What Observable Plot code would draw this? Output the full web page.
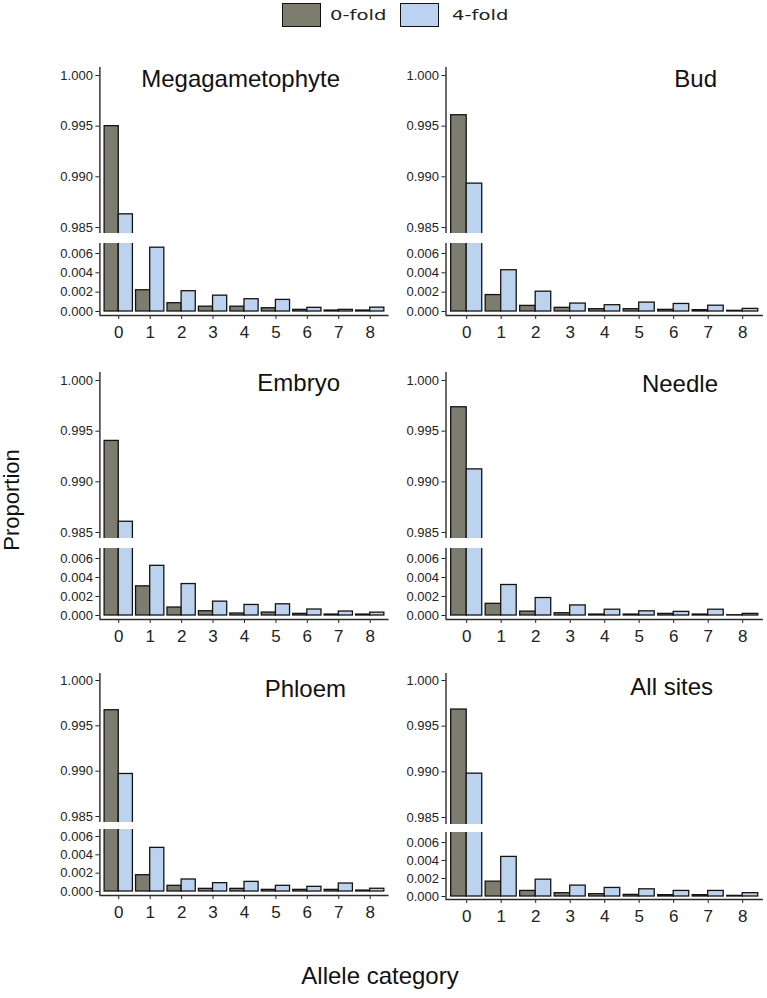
<!DOCTYPE html>
<html><head><meta charset="utf-8">
<script src="https://cdn.jsdelivr.net/npm/d3@7"></script>
<script src="https://cdn.jsdelivr.net/npm/@observablehq/plot@0.6"></script>
<style>
body{margin:0;background:#fff;}
#root{position:relative;width:767px;height:998px;overflow:hidden;font-family:"Liberation Sans",Arial,sans-serif;color:#111;}
.abs{position:absolute;}
.ptitle{position:absolute;font-size:24px;line-height:24px;white-space:nowrap;color:#111;}
.key{position:absolute;box-sizing:border-box;border:1.6px solid #111;}
.ktext{position:absolute;font-family:"DejaVu Sans",sans-serif;font-size:14px;line-height:14px;white-space:nowrap;transform-origin:left center;transform:scaleX(1.4);color:#222;}
g[aria-label^="x-axis"] text{font-family:"Liberation Sans Narrow","Liberation Sans",sans-serif;font-size:17px;}
g[aria-label^="y-axis"] text{font-size:13px;}
</style>
</head><body><div id="root"></div>
<script>
// ---- data ----
const categories = [0, 1, 2, 3, 4, 5, 6, 7, 8];
const folds = ["0-fold", "4-fold"];
const panelNames = ["Megagametophyte", "Bud", "Embryo", "Needle", "Phloem", "All sites"];
const upperTicks = [0.985, 0.990, 0.995, 1.000];
const lowerTicks = [0.000, 0.002, 0.004, 0.006];

const megagametophyte0 = [0.99500, 0.00220, 0.00086, 0.00050, 0.00050, 0.00034, 0.00017, 0.00010, 0.00010];
const megagametophyte4 = [0.98630, 0.00660, 0.00210, 0.00164, 0.00127, 0.00120, 0.00038, 0.00017, 0.00040];
const bud0 = [0.99608, 0.00170, 0.00058, 0.00038, 0.00024, 0.00024, 0.00017, 0.00014, 0.00007];
const bud4 = [0.98933, 0.00427, 0.00205, 0.00082, 0.00065, 0.00092, 0.00078, 0.00060, 0.00027];
const embryo0 = [0.99404, 0.00307, 0.00084, 0.00045, 0.00021, 0.00031, 0.00017, 0.00010, 0.00010];
const embryo4 = [0.98606, 0.00523, 0.00331, 0.00146, 0.00111, 0.00118, 0.00063, 0.00042, 0.00030];
const needle0 = [0.99736, 0.00123, 0.00041, 0.00024, 0.00010, 0.00010, 0.00017, 0.00010, 0.00003];
const needle4 = [0.99123, 0.00321, 0.00184, 0.00106, 0.00061, 0.00044, 0.00038, 0.00061, 0.00017];
const phloem0 = [0.99672, 0.00178, 0.00062, 0.00029, 0.00029, 0.00018, 0.00018, 0.00018, 0.00010];
const phloem4 = [0.98969, 0.00476, 0.00131, 0.00091, 0.00105, 0.00062, 0.00051, 0.00087, 0.00030];
const allSites0 = [0.99682, 0.00165, 0.00062, 0.00037, 0.00026, 0.00018, 0.00015, 0.00015, 0.00007];
const allSites4 = [0.98980, 0.00440, 0.00187, 0.00121, 0.00095, 0.00080, 0.00062, 0.00062, 0.00037];

const panelValues = [
  [megagametophyte0, megagametophyte4],
  [bud0, bud4],
  [embryo0, embryo4],
  [needle0, needle4],
  [phloem0, phloem4],
  [allSites0, allSites4]
];

// ---- layout / style ----
const colors = ["#7c7d6f", "#bcd3ef"];
const barHalf = 0.45;
const cols = [
  {svgLeft: 45, width: 350, axisX: 99.4, step: 31.43},
  {svgLeft: 395, width: 372, axisX: 445.5, step: 34.5}
];
const layouts = [
  {top: 67, y1000: 75, y0985: 227, upperBottom: 233, lowerTop: 243, y006: 253, y0: 311, axis: 315},
  {top: 67, y1000: 75, y0985: 227, upperBottom: 233, lowerTop: 243, y006: 253, y0: 311, axis: 315},
  {top: 372, y1000: 380, y0985: 532, upperBottom: 538, lowerTop: 548, y006: 558, y0: 615, axis: 619},
  {top: 372, y1000: 380, y0985: 532, upperBottom: 538, lowerTop: 548, y006: 558, y0: 615, axis: 619},
  {top: 673, y1000: 680, y0985: 816, upperBottom: 822, lowerTop: 829, y006: 836, y0: 891, axis: 895},
  {top: 673, y1000: 680, y0985: 817, upperBottom: 824, lowerTop: 832, y006: 842, y0: 896, axis: 899}
];
const titlePos = [
  {right: 340, base: 86}, {right: 717, base: 86},
  {right: 340, base: 390}, {right: 718, base: 391},
  {right: 346, base: 696}, {right: 713, base: 694}
];

const root = document.getElementById("root");
function place(node, left, top) {
  const d = document.createElement("div");
  d.className = "abs";
  d.style.left = left + "px";
  d.style.top = top + "px";
  d.appendChild(node);
  root.appendChild(d);
}

const xMin = -0.6, xMax = categories[categories.length - 1] + 0.6;
const fmt = d3.format(".3f");
const baseStyle = {fontFamily: "Liberation Sans, Arial, sans-serif", fontSize: "13px", color: "#222", background: "transparent", overflow: "visible"};

panelNames.forEach((name, p) => {
  const col = cols[p % 2];
  const L = layouts[p];
  const [zero, four] = panelValues[p];
  const rows = categories.flatMap((c, i) => [
    {cat: c, fold: folds[0], value: zero[i]},
    {cat: c, fold: folds[1], value: four[i]}
  ]);
  const right = col.axisX + (xMax - xMin) * col.step;
  const marginLeft = col.axisX - col.svgLeft;
  const marginRight = col.svgLeft + col.width - right;

  const bars = Plot.rect(rows, {
    x1: d => d.cat - (d.fold === folds[0] ? barHalf : 0),
    x2: d => d.cat + (d.fold === folds[0] ? 0 : barHalf),
    y1: 0, y2: "value", fill: "fold",
    stroke: "#141414", strokeWidth: 1.3, clip: true
  });

  // upper section
  const ku = (L.y0985 - L.y1000) / 0.015;
  const uTop = 1.000 + (L.y1000 - L.top) / ku;
  const uBot = 0.985 - (L.upperBottom - L.y0985) / ku;
  const upper = Plot.plot({
    width: col.width, height: L.upperBottom - L.top,
    marginLeft, marginRight, marginTop: 0, marginBottom: 0,
    style: baseStyle,
    x: {domain: [xMin, xMax], axis: null},
    y: {domain: [uBot, uTop], ticks: upperTicks, tickFormat: fmt, tickSize: 4, tickPadding: 3, label: null},
    color: {domain: folds, range: colors},
    marks: [bars, Plot.ruleX([xMin], {stroke: "#2a2a2a", strokeWidth: 1.4})]
  });
  place(upper, col.svgLeft, L.top);

  // lower section
  const kl = (L.y0 - L.y006) / 0.006;
  const lTop = 0.006 + (L.y006 - L.lowerTop) / kl;
  const lBot = 0 - (L.axis - L.y0) / kl;
  const lower = Plot.plot({
    width: col.width, height: L.axis - L.lowerTop + 34,
    marginLeft, marginRight, marginTop: 0, marginBottom: 34,
    style: baseStyle,
    x: {domain: [xMin, xMax], ticks: categories, tickFormat: d => String(d), tickSize: 4, tickPadding: 6, label: null},
    y: {domain: [lBot, lTop], ticks: lowerTicks, tickFormat: fmt, tickSize: 4, tickPadding: 3, label: null},
    color: {domain: folds, range: colors},
    marks: [
      bars,
      Plot.ruleX([xMin], {stroke: "#2a2a2a", strokeWidth: 1.4}),
      Plot.ruleY([lBot], {stroke: "#2a2a2a", strokeWidth: 1.6})
    ]
  });
  place(lower, col.svgLeft, L.lowerTop);

  // panel title
  const t = document.createElement("div");
  t.className = "ptitle";
  t.textContent = name;
  t.style.right = (767 - titlePos[p].right) + "px";
  t.style.top = (titlePos[p].base - 19) + "px";
  root.appendChild(t);
});

// legend
const legendPos = [{box: 282, text: 330}, {box: 400, text: 452}];
folds.forEach((f, i) => {
  const b = document.createElement("div");
  b.className = "key";
  b.style.left = legendPos[i].box + "px";
  b.style.top = "3px";
  b.style.width = "39px";
  b.style.height = "24px";
  b.style.background = colors[i];
  root.appendChild(b);
  const s = document.createElement("div");
  s.className = "ktext";
  s.textContent = f;
  s.style.left = legendPos[i].text + "px";
  s.style.top = "8px";
  root.appendChild(s);
});

// axis titles
const yl = document.createElement("div");
yl.className = "abs";
yl.textContent = "Proportion";
yl.style.cssText += "left:12px;top:500px;font-size:22px;line-height:22px;white-space:nowrap;transform:translate(-50%,-50%) rotate(-90deg);color:#111;";
root.appendChild(yl);
const xl = document.createElement("div");
xl.className = "abs";
xl.textContent = "Allele category";
xl.style.cssText += "left:380px;top:976px;font-size:24px;line-height:24px;white-space:nowrap;transform:translate(-50%,-50%);color:#111;";
root.appendChild(xl);
</script>
</body></html>
